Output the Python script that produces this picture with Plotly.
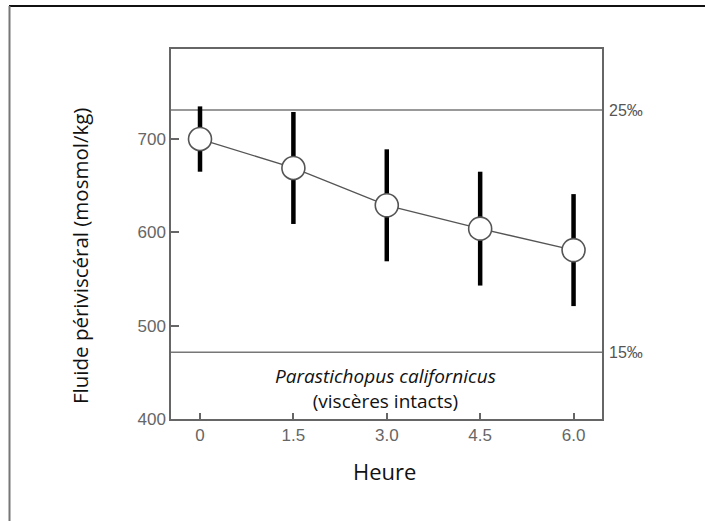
import plotly.graph_objects as go

# Data
hours = [0, 1.5, 3.0, 4.5, 6.0]
hour_labels = ["0", "1.5", "3.0", "4.5", "6.0"]
osmolality = [700, 669, 629, 604, 581]
osmo_err = [35, 60, 60, 61, 60]
y_ticks = [400, 500, 600, 700]
salinity_levels = [731, 471.5]
salinity_labels = ["25‰", "15‰"]

W, H = 705, 521
ML, MR, MT, MB = 171, 103, 49, 102
PW, PH = W - ML - MR, H - MT - MB

def px_x(p):
    return (p - ML) / PW

def px_y(p):
    return (H - MB - p) / PH

fig = go.Figure()

# line + error bars (below markers)
fig.add_trace(go.Scatter(
    x=hours, y=osmolality, mode="lines",
    line=dict(color="#555555", width=1.3),
    error_y=dict(type="data", array=osmo_err, visible=True,
                 color="#000000", thickness=4.5, width=0),
    showlegend=False, hoverinfo="skip"))

fig.add_trace(go.Scatter(
    x=hours, y=osmolality, mode="markers",
    marker=dict(size=23, color="white", line=dict(color="#555555", width=1.6)),
    showlegend=False))

shapes = []
for lvl in salinity_levels:
    shapes.append(dict(type="line", xref="paper", yref="y", x0=0, x1=1, y0=lvl, y1=lvl,
                       line=dict(color="#777777", width=1.5), layer="below"))
# outer frame (top and left)
shapes.append(dict(type="line", xref="paper", yref="paper",
                   x0=px_x(9), x1=px_x(W + 5), y0=px_y(6), y1=px_y(6),
                   line=dict(color="#111111", width=2)))
shapes.append(dict(type="line", xref="paper", yref="paper",
                   x0=px_x(9.5), x1=px_x(9.5), y0=px_y(6), y1=px_y(H + 5),
                   line=dict(color="#777777", width=2)))

annotations = []
for lvl, lab in zip(salinity_levels, salinity_labels):
    annotations.append(dict(x=px_x(607), y=lvl, xref="paper", yref="y", text=lab,
                            showarrow=False, xanchor="left", yanchor="middle",
                            font=dict(family="Liberation Sans, Arial", size=16, color="#555555")))
annotations.append(dict(x=px_x(385), y=px_y(388), xref="paper", yref="paper",
                        text="<i>Parastichopus californicus</i><br>(viscères intacts)",
                        showarrow=False, xanchor="center", yanchor="middle",
                        font=dict(family="Open Sans", size=19, color="#111111")))
annotations.append(dict(x=px_x(80), y=px_y(256), xref="paper", yref="paper",
                        text="Fluide périviscéral (mosmol/kg)", showarrow=False,
                        textangle=-90, xanchor="center", yanchor="middle",
                        font=dict(family="Open Sans", size=20.5, color="#111111")))
annotations.append(dict(x=px_x(384), y=px_y(471), xref="paper", yref="paper",
                        text="Heure", showarrow=False,
                        xanchor="center", yanchor="middle",
                        font=dict(family="Open Sans", size=22, color="#111111")))

fig.update_layout(
    width=W, height=H,
    margin=dict(l=ML, r=MR, t=MT, b=MB, pad=0),
    paper_bgcolor="white", plot_bgcolor="white",
    shapes=shapes, annotations=annotations,
    xaxis=dict(range=[-0.466, 6.457], tickvals=hours, ticktext=hour_labels,
               ticks="inside", ticklen=6, tickwidth=1.5, tickcolor="#666666",
               showline=True, linecolor="#666666", linewidth=1.5, mirror=True,
               showgrid=False, zeroline=False,
               tickfont=dict(family="Liberation Sans, Arial", size=17, color="#666666")),
    yaxis=dict(range=[400, 796.5], tickvals=y_ticks,
               ticks="inside", ticklen=8, tickwidth=1.5, tickcolor="#666666",
               showline=True, linecolor="#666666", linewidth=1.5, mirror=True,
               showgrid=False, zeroline=False,
               tickfont=dict(family="Liberation Sans, Arial", size=17, color="#666666")),
)

fig.write_html("out.html", config={"displayModeBar": False},
               post_script="document.body.style.margin='0';document.body.style.overflow='hidden';")
